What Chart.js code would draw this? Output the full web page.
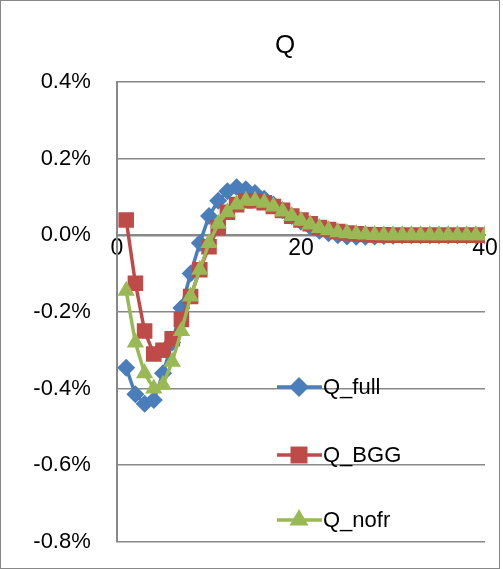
<!DOCTYPE html>
<html><head>
<script src="https://cdn.jsdelivr.net/npm/chart.js@4"></script>
<style>body{margin:0;background:#fff}#wrap{width:503px;height:569px}</style>
</head><body><div id="wrap"><canvas id="c"></canvas></div>
<script>
'use strict';
const xs = Array.from({length: 40}, (_, i) => i + 1);
const qFull = [-0.346,-0.415,-0.44,-0.43,-0.36,-0.28,-0.19,-0.10,-0.02,0.05,0.09,0.115,0.125,0.12,0.11,0.095,0.08,0.065,0.05,0.035,0.022,0.012,0.005,0.0,-0.003,-0.004,-0.004,-0.003,-0.002,-0.001,0,0,0,0,0,0,0,0,0,0];
const qBGG = [0.04,-0.125,-0.25,-0.31,-0.30,-0.27,-0.22,-0.16,-0.09,-0.03,0.02,0.06,0.08,0.09,0.09,0.085,0.075,0.065,0.05,0.04,0.03,0.02,0.015,0.01,0.006,0.004,0.002,0.001,0.001,0,0,0,0,0,0,0,0,0,0,0];
const qNofr = [-0.145,-0.28,-0.36,-0.40,-0.39,-0.33,-0.25,-0.16,-0.09,-0.02,0.03,0.06,0.08,0.09,0.09,0.085,0.075,0.062,0.05,0.038,0.028,0.019,0.013,0.008,0.005,0.003,0.002,0.001,0,0,0,0,0,0,0,0,0,0,0,0];
const yTicks = [-0.8,-0.6,-0.4,-0.2,0,0.2,0.4];
const FONT = '"Liberation Sans", Arial';

const mk = (label, vals, color, style, order, r) => ({
    label, data: xs.map((x, i) => ({x, y: vals[i]})), order, legendR: r + 1,
    borderColor: color, backgroundColor: color, borderWidth: 3.5,
    pointStyle: style, pointRadius: r, pointHoverRadius: r, pointBorderWidth: 0
});

const extras = {
    id: 'extras',
    afterDraw(chart) {
        const ctx = chart.ctx;
        const rows = [387, 455, 520];
        ctx.save();
        ctx.fillStyle = '#000'; ctx.font = '26px ' + FONT;
        ctx.textAlign = 'center'; ctx.textBaseline = 'middle';
        ctx.fillText('Q', 285, 46);
        ctx.restore();
        chart.data.datasets.forEach((ds, i) => {
            const y = rows[i];
            ctx.save();
            ctx.strokeStyle = ds.borderColor; ctx.lineWidth = 3.5;
            ctx.beginPath(); ctx.moveTo(277, y); ctx.lineTo(322, y); ctx.stroke();
            ctx.fillStyle = ds.backgroundColor;
            Chart.helpers.drawPoint(ctx, {pointStyle: ds.pointStyle, radius: ds.legendR, borderWidth: 0}, 299, y);
            ctx.fillStyle = '#000'; ctx.font = '22px ' + FONT;
            ctx.textBaseline = 'middle';
            ctx.fillText(ds.label, 323, y + 1);
            ctx.restore();
        });
        ctx.save(); ctx.strokeStyle = '#888'; ctx.lineWidth = 1;
        ctx.strokeRect(0.5, 0.5, 499, 568); ctx.restore();
    }
};

new Chart(document.getElementById('c'), {
    type: 'line',
    data: {datasets: [
        mk('Q_full', qFull, '#4A7EBB', 'rectRot', 2, 9),
        mk('Q_BGG', qBGG, '#BE4B48', 'rect', 1, 11),
        mk('Q_nofr', qNofr, '#98B954', 'triangle', 0, 10)]},
    options: {
        responsive: true, maintainAspectRatio: false, animation: false,
        layout: {autoPadding: false, padding: {left: 0, right: 18, top: 82, bottom: 15}},
        plugins: {legend: {display: false}, title: {display: false}, tooltip: {enabled: false}},
        scales: {
            x: {type: 'linear', min: 0, max: 40, position: {y: 0},
                afterFit: ax => { ax.height = 0; },
                ticks: {stepSize: 20, color: '#000', font: {size: 23, family: FONT}, maxRotation: 0, padding: 0, callback: v => v},
                grid: {display: false, tickLength: 0},
                border: {color: '#888', width: 2}},
            y: {min: -0.8, max: 0.4, afterBuildTicks: ax => { ax.ticks = yTicks.map(v => ({value: v})); },
                afterFit: ax => { ax.width = 117; },
                ticks: {color: '#000', font: {size: 22, family: FONT}, padding: 14, callback: v => v.toFixed(1) + '%  '},
                grid: {color: '#888', lineWidth: 1.5, drawTicks: false}, border: {color: '#888', width: 2}}
        }
    },
    plugins: [extras]
});
</script></body></html>
